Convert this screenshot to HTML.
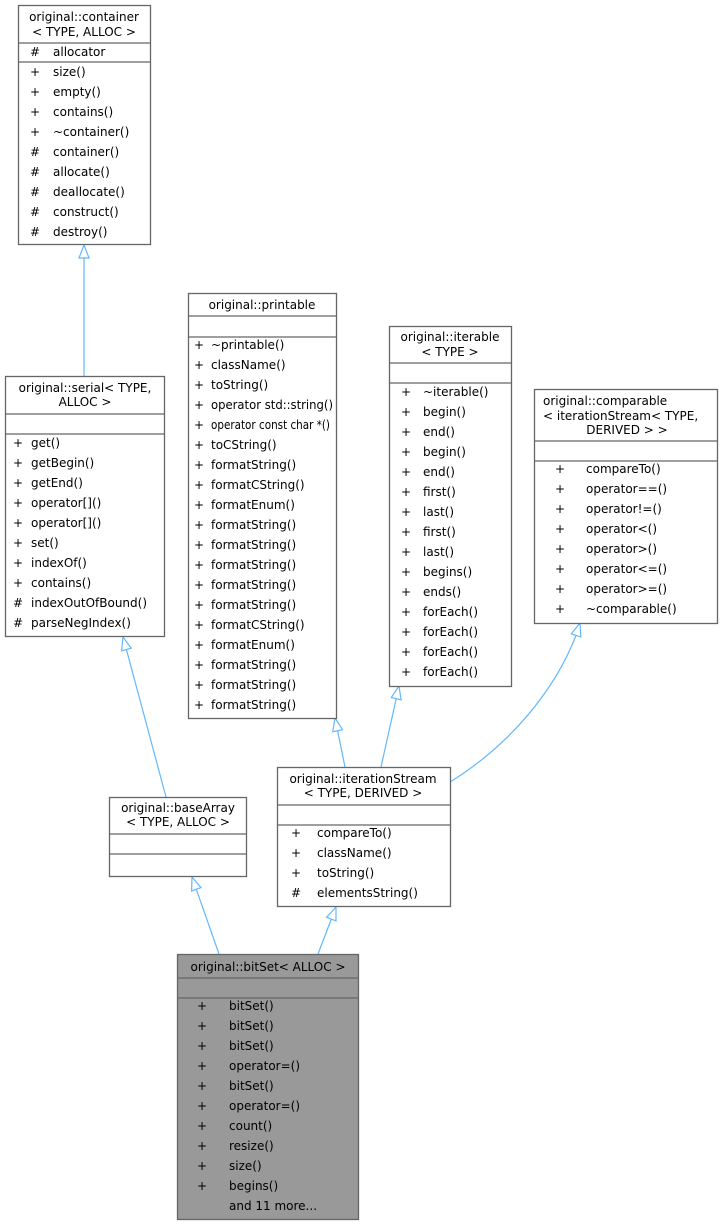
<!DOCTYPE html>
<html><head><meta charset="utf-8"><style>
html,body{margin:0;padding:0;background:#fff;}
svg{display:block;}
text{font-family:"DejaVu Sans","Liberation Sans",sans-serif;font-size:12px;fill:#000;}
.m{text-anchor:middle;}
.b{fill:#fff;stroke:#666;stroke-width:1.3;}
.s{stroke:#666;stroke-width:1.3;}
.e{fill:none;stroke:#63b8ff;stroke-width:1.2;}
.a{fill:#fff;stroke:#63b8ff;stroke-width:1.2;}
</style></head><body>
<svg width="723" height="1225" viewBox="0 0 723 1225" xmlns="http://www.w3.org/2000/svg">
<!-- edges -->
<path class="e" d="M84,258 L84,376"/>
<polygon class="a" points="84,245 79,258 89,258"/>
<path class="e" d="M126.4,649.5 L166,797"/>
<polygon class="a" points="123,637 131.2,648.2 121.6,650.8"/>
<path class="e" d="M337.6,730.7 L345,767"/>
<polygon class="a" points="335,718 342.5,729.7 332.7,731.7"/>
<path class="e" d="M396.2,698.7 L381,767"/>
<polygon class="a" points="399,686 401.1,699.8 391.3,697.6"/>
<path class="e" d="M450,782 C510,745 555,690 576,635.4"/>
<polygon class="a" points="580,623 580.8,636.9 571.3,633.9"/>
<path class="e" d="M196.3,889.3 L219,954"/>
<polygon class="a" points="192,877 201,887.6 191.6,891"/>
<path class="e" d="M331.3,919.1 L318,954"/>
<polygon class="a" points="336,907 336,920.9 326.6,917.3"/>

<!-- container -->
<rect class="b" x="18.5" y="5.5" width="132" height="239"/>
<line class="s" x1="18.5" y1="43" x2="150.5" y2="43"/>
<line class="s" x1="18.5" y1="62" x2="150.5" y2="62"/>
<text class="m" x="84" y="21">original::container</text>
<text class="m" x="84" y="36">&lt; TYPE, ALLOC &gt;</text>
<text class="m" x="35" y="56">#</text><text x="53" y="56">allocator</text>
<text class="m" x="35" y="76">+</text><text x="53" y="76">size()</text>
<text class="m" x="35" y="96">+</text><text x="53" y="96">empty()</text>
<text class="m" x="35" y="116">+</text><text x="53" y="116">contains()</text>
<text class="m" x="35" y="136">+</text><text x="53" y="136">~container()</text>
<text class="m" x="35" y="156">#</text><text x="53" y="156">container()</text>
<text class="m" x="35" y="176">#</text><text x="53" y="176">allocate()</text>
<text class="m" x="35" y="196">#</text><text x="53" y="196">deallocate()</text>
<text class="m" x="35" y="216">#</text><text x="53" y="216">construct()</text>
<text class="m" x="35" y="236">#</text><text x="53" y="236">destroy()</text>

<!-- serial -->
<rect class="b" x="5.5" y="376.5" width="159" height="260"/>
<line class="s" x1="5.5" y1="414" x2="164.5" y2="414"/>
<line class="s" x1="5.5" y1="434" x2="164.5" y2="434"/>
<text class="m" x="85" y="392">original::serial&lt; TYPE,</text>
<text class="m" x="85" y="406">ALLOC &gt;</text>
<text class="m" x="18" y="447">+</text><text x="31" y="447">get()</text>
<text class="m" x="18" y="467">+</text><text x="31" y="467">getBegin()</text>
<text class="m" x="18" y="487">+</text><text x="31" y="487">getEnd()</text>
<text class="m" x="18" y="507">+</text><text x="31" y="507">operator[]()</text>
<text class="m" x="18" y="527">+</text><text x="31" y="527">operator[]()</text>
<text class="m" x="18" y="547">+</text><text x="31" y="547">set()</text>
<text class="m" x="18" y="567">+</text><text x="31" y="567">indexOf()</text>
<text class="m" x="18" y="587">+</text><text x="31" y="587">contains()</text>
<text class="m" x="18" y="607">#</text><text x="31" y="607">indexOutOfBound()</text>
<text class="m" x="18" y="627">#</text><text x="31" y="627">parseNegIndex()</text>

<!-- printable -->
<rect class="b" x="188.5" y="293.5" width="148" height="425"/>
<line class="s" x1="188.5" y1="316" x2="336.5" y2="316"/>
<line class="s" x1="188.5" y1="337" x2="336.5" y2="337"/>
<text class="m" x="262" y="309">original::printable</text>
<text class="m" x="199" y="349">+</text><text x="211" y="349">~printable()</text>
<text class="m" x="199" y="369">+</text><text x="211" y="369">className()</text>
<text class="m" x="199" y="389">+</text><text x="211" y="389">toString()</text>
<text class="m" x="199" y="409">+</text><text x="211" y="409" textLength="122" lengthAdjust="spacingAndGlyphs">operator std::string()</text>
<text class="m" x="199" y="429">+</text><text x="211" y="429" textLength="119" lengthAdjust="spacingAndGlyphs">operator const char *()</text>
<text class="m" x="199" y="449">+</text><text x="211" y="449">toCString()</text>
<text class="m" x="199" y="469">+</text><text x="211" y="469">formatString()</text>
<text class="m" x="199" y="489">+</text><text x="211" y="489">formatCString()</text>
<text class="m" x="199" y="509">+</text><text x="211" y="509">formatEnum()</text>
<text class="m" x="199" y="529">+</text><text x="211" y="529">formatString()</text>
<text class="m" x="199" y="549">+</text><text x="211" y="549">formatString()</text>
<text class="m" x="199" y="569">+</text><text x="211" y="569">formatString()</text>
<text class="m" x="199" y="589">+</text><text x="211" y="589">formatString()</text>
<text class="m" x="199" y="609">+</text><text x="211" y="609">formatString()</text>
<text class="m" x="199" y="629">+</text><text x="211" y="629">formatCString()</text>
<text class="m" x="199" y="649">+</text><text x="211" y="649">formatEnum()</text>
<text class="m" x="199" y="669">+</text><text x="211" y="669">formatString()</text>
<text class="m" x="199" y="689">+</text><text x="211" y="689">formatString()</text>
<text class="m" x="199" y="709">+</text><text x="211" y="709">formatString()</text>

<!-- iterable -->
<rect class="b" x="389.5" y="326.5" width="122" height="360"/>
<line class="s" x1="389.5" y1="363" x2="511.5" y2="363"/>
<line class="s" x1="389.5" y1="383" x2="511.5" y2="383"/>
<text class="m" x="450" y="341">original::iterable</text>
<text class="m" x="450" y="356">&lt; TYPE &gt;</text>
<text class="m" x="406" y="396">+</text><text x="423" y="396">~iterable()</text>
<text class="m" x="406" y="416">+</text><text x="423" y="416">begin()</text>
<text class="m" x="406" y="436">+</text><text x="423" y="436">end()</text>
<text class="m" x="406" y="456">+</text><text x="423" y="456">begin()</text>
<text class="m" x="406" y="476">+</text><text x="423" y="476">end()</text>
<text class="m" x="406" y="496">+</text><text x="423" y="496">first()</text>
<text class="m" x="406" y="516">+</text><text x="423" y="516">last()</text>
<text class="m" x="406" y="536">+</text><text x="423" y="536">first()</text>
<text class="m" x="406" y="556">+</text><text x="423" y="556">last()</text>
<text class="m" x="406" y="576">+</text><text x="423" y="576">begins()</text>
<text class="m" x="406" y="596">+</text><text x="423" y="596">ends()</text>
<text class="m" x="406" y="616">+</text><text x="423" y="616">forEach()</text>
<text class="m" x="406" y="636">+</text><text x="423" y="636">forEach()</text>
<text class="m" x="406" y="656">+</text><text x="423" y="656">forEach()</text>
<text class="m" x="406" y="676">+</text><text x="423" y="676">forEach()</text>

<!-- comparable -->
<rect class="b" x="534.5" y="389.5" width="183" height="234"/>
<line class="s" x1="534.5" y1="441" x2="717.5" y2="441"/>
<line class="s" x1="534.5" y1="461" x2="717.5" y2="461"/>
<text x="543" y="405">original::comparable</text>
<text x="543" y="420">&lt; iterationStream&lt; TYPE,</text>
<text class="m" x="627" y="434">DERIVED &gt; &gt;</text>
<text class="m" x="560" y="473">+</text><text x="586" y="473">compareTo()</text>
<text class="m" x="560" y="493">+</text><text x="586" y="493">operator==()</text>
<text class="m" x="560" y="513">+</text><text x="586" y="513">operator!=()</text>
<text class="m" x="560" y="533">+</text><text x="586" y="533">operator&lt;()</text>
<text class="m" x="560" y="553">+</text><text x="586" y="553">operator&gt;()</text>
<text class="m" x="560" y="573">+</text><text x="586" y="573">operator&lt;=()</text>
<text class="m" x="560" y="593">+</text><text x="586" y="593">operator&gt;=()</text>
<text class="m" x="560" y="613">+</text><text x="586" y="613">~comparable()</text>

<!-- iterationStream -->
<rect class="b" x="277.5" y="767.5" width="173" height="139"/>
<line class="s" x1="277.5" y1="805" x2="450.5" y2="805"/>
<line class="s" x1="277.5" y1="825" x2="450.5" y2="825"/>
<text class="m" x="363" y="783">original::iterationStream</text>
<text class="m" x="363" y="797">&lt; TYPE, DERIVED &gt;</text>
<text class="m" x="296" y="837">+</text><text x="317" y="837">compareTo()</text>
<text class="m" x="296" y="857">+</text><text x="317" y="857">className()</text>
<text class="m" x="296" y="877">+</text><text x="317" y="877">toString()</text>
<text class="m" x="296" y="897">#</text><text x="317" y="897">elementsString()</text>

<!-- baseArray -->
<rect class="b" x="109.5" y="797.5" width="137" height="79"/>
<line class="s" x1="109.5" y1="834" x2="246.5" y2="834"/>
<line class="s" x1="109.5" y1="854" x2="246.5" y2="854"/>
<text class="m" x="178" y="812">original::baseArray</text>
<text class="m" x="178" y="826">&lt; TYPE, ALLOC &gt;</text>

<!-- bitSet -->
<rect x="177.5" y="954.5" width="181" height="265" fill="#999" stroke="#666" stroke-width="1.3"/>
<line class="s" x1="177.5" y1="978" x2="358.5" y2="978"/>
<line class="s" x1="177.5" y1="998" x2="358.5" y2="998"/>
<text class="m" x="268" y="971">original::bitSet&lt; ALLOC &gt;</text>
<text class="m" x="202" y="1010">+</text><text x="229" y="1010">bitSet()</text>
<text class="m" x="202" y="1030">+</text><text x="229" y="1030">bitSet()</text>
<text class="m" x="202" y="1050">+</text><text x="229" y="1050">bitSet()</text>
<text class="m" x="202" y="1070">+</text><text x="229" y="1070">operator=()</text>
<text class="m" x="202" y="1090">+</text><text x="229" y="1090">bitSet()</text>
<text class="m" x="202" y="1110">+</text><text x="229" y="1110">operator=()</text>
<text class="m" x="202" y="1130">+</text><text x="229" y="1130">count()</text>
<text class="m" x="202" y="1150">+</text><text x="229" y="1150">resize()</text>
<text class="m" x="202" y="1170">+</text><text x="229" y="1170">size()</text>
<text class="m" x="202" y="1190">+</text><text x="229" y="1190">begins()</text>
<text x="229" y="1210">and 11 more...</text>
</svg>
</body></html>
